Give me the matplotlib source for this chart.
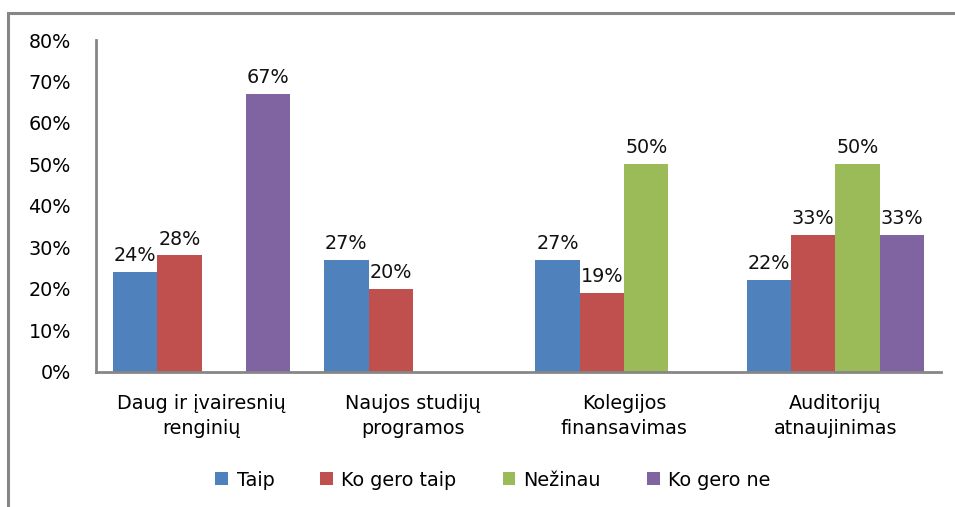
import numpy as np
import matplotlib
matplotlib.use("Agg")
import matplotlib.pyplot as plt
from matplotlib.patches import Rectangle, Patch

categories = ["Daug ir įvairesnių\nrenginių", "Naujos studijų\nprogramos",
              "Kolegijos\nfinansavimas", "Auditorijų\natnaujinimas"]
series_names = ["Taip", "Ko gero taip", "Nežinau", "Ko gero ne"]
taip = [0.24, 0.27, 0.27, 0.22]
ko_gero_taip = [0.28, 0.20, 0.19, 0.33]
nezinau = [np.nan, np.nan, 0.50, 0.50]
ko_gero_ne = [0.67, np.nan, np.nan, 0.33]
y_ticks = [0.0, 0.1, 0.2, 0.3, 0.4, 0.5, 0.6, 0.7, 0.8]
y_tick_labels = ["0%", "10%", "20%", "30%", "40%", "50%", "60%", "70%", "80%"]

colors = ["#4F81BD", "#C0504D", "#9BBB59", "#8064A2"]
axis_gray = "#868686"

plt.rcParams["font.family"] = ["DejaVu Sans"]
FS = 13.8

W, H = 955, 507
fig = plt.figure(figsize=(W / 100, H / 100), dpi=100)

# outer chart frame (runs off the right and bottom edges)
fig.patches.append(Rectangle((8 / W, -0.05), 1.2, 1 - 13 / H + 0.05,
                             transform=fig.transFigure, fill=False,
                             edgecolor=axis_gray, linewidth=2.2))

left, right, top, bottom = 96, 941, 40, 371.5
ax = fig.add_axes([left / W, 1 - bottom / H, (right - left) / W, (bottom - top) / H])

x = np.arange(len(categories))
bw = 0.21
all_series = [taip, ko_gero_taip, nezinau, ko_gero_ne]
for i, (vals, c) in enumerate(zip(all_series, colors)):
    pos = x + (i - 1.5) * bw
    v = np.array(vals, dtype=float)
    ax.bar(pos, np.nan_to_num(v), width=bw, color=c, linewidth=0)
    for p, val in zip(pos, v):
        if not np.isnan(val):
            ax.annotate(f"{round(val * 100):.0f}%", (p, val), xytext=(0, 5),
                        textcoords="offset points", ha="center", va="bottom",
                        fontsize=FS, color="#111111")

ax.set_xlim(-0.5, len(categories) - 0.5)
ax.set_ylim(0, 0.8)
ax.set_yticks(y_ticks)
ax.set_yticklabels(y_tick_labels, fontsize=FS)
ax.set_xticks(x)
ax.set_xticklabels(categories, fontsize=FS, linespacing=1.45)
ax.tick_params(axis="y", length=0, pad=18)
ax.tick_params(axis="x", length=0, pad=16)
for s in ["top", "right"]:
    ax.spines[s].set_visible(False)
for s in ["left", "bottom"]:
    ax.spines[s].set_color(axis_gray)
    ax.spines[s].set_linewidth(2)

handles = [Patch(facecolor=c, edgecolor="none") for c in colors]
fig.legend(handles, series_names, loc="center", bbox_to_anchor=(493 / W, 1 - 480 / H),
           ncol=4, frameon=False, fontsize=FS, handlelength=0.65, handleheight=0.65,
           handletextpad=0.45, columnspacing=2.4)

fig.savefig("out.png", dpi=100)
